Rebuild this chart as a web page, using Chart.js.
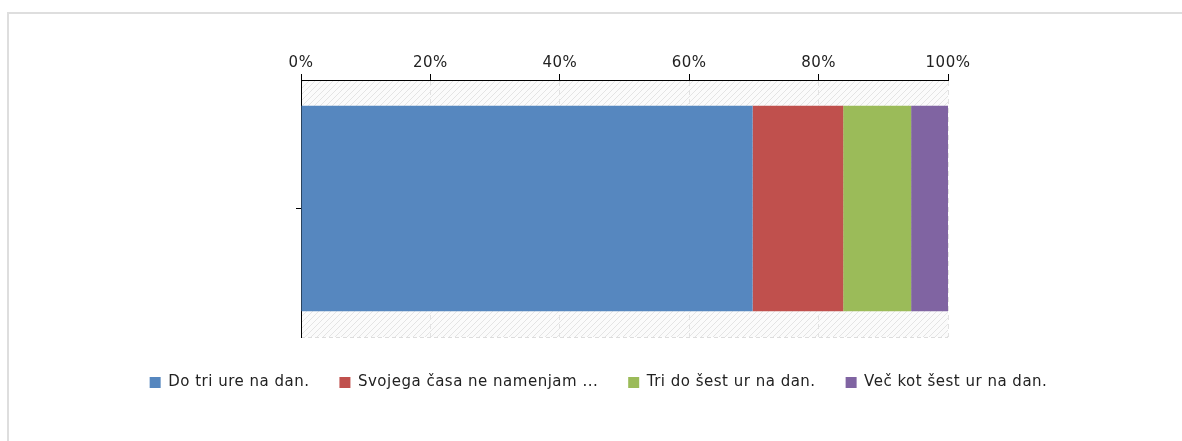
<!DOCTYPE html>
<html>
<head>
<meta charset="utf-8">
<script src="https://cdn.jsdelivr.net/npm/chart.js@4.4.1/dist/chart.umd.min.js"></script>
<style>
  html, body { margin: 0; padding: 0; background: #fff; }
  #frame { position: absolute; left: 7px; top: 12px; width: 1200px; height: 460px; border: 2px solid #dedede; box-sizing: border-box; }
  #wrap { position: absolute; left: 0; top: 0; width: 1182px; height: 441px; }
</style>
</head>
<body>
<div id="frame"></div>
<div id="wrap"><canvas id="myChart" width="1182" height="441"></canvas></div>
<script>
// one row, four answers (share of respondents, %)
const categories = [""];
const seriesLabels = [
  "Do tri ure na dan.",
  "Svojega časa ne namenjam ...",
  "Tri do šest ur na dan.",
  "Več kot šest ur na dan.",
];
const seriesValues = [69.8, 14.0, 10.5, 5.7];
const seriesColors = ["#5687bf", "#c0504d", "#9bbb59", "#8064a2"];
const tickStep = 20;

function hatch() {
  const c = document.createElement("canvas");
  c.width = 6;
  c.height = 6;
  const g = c.getContext("2d");
  g.fillStyle = "#fbfbfb";
  g.fillRect(0, 0, 6, 6);
  g.strokeStyle = "#e4e4e4";
  g.lineWidth = 1;
  g.beginPath();
  g.moveTo(0, 6);
  g.lineTo(6, 0);
  g.moveTo(-3, 3);
  g.lineTo(3, -3);
  g.moveTo(3, 9);
  g.lineTo(9, 3);
  g.stroke();
  return g.createPattern(c, "repeat");
}

// the original text is a little wider than DejaVu
const spacing = {
  id: "spacing",
  beforeUpdate(chart) { chart.ctx.letterSpacing = "0.5px"; },
  beforeLayout(chart) { chart.ctx.letterSpacing = "0.5px"; },
  beforeDraw(chart) { chart.ctx.letterSpacing = "0.5px"; },
};

const plotBg = {
  id: "plotBg",
  beforeDraw(chart) {
    const { ctx, chartArea: a } = chart;
    ctx.save();
    ctx.fillStyle = hatch();
    ctx.fillRect(a.left, a.top, a.right - a.left, a.bottom - a.top);
    ctx.strokeStyle = "#dddddd";
    ctx.setLineDash([4, 3]);
    ctx.beginPath();
    ctx.moveTo(a.left, a.bottom + 0.5);
    ctx.lineTo(a.right, a.bottom + 0.5);
    ctx.stroke();
    ctx.restore();
  },
};

function main() {
  const ctx = document.getElementById("myChart").getContext("2d");
  const font = { family: "'DejaVu Sans', Verdana, sans-serif", size: 15 };

  const chartOptions = {
    type: "bar",
    data: {
      labels: categories,
      datasets: seriesLabels.map((label, i) => ({
        label: label,
        data: [seriesValues[i]],
        backgroundColor: seriesColors[i],
        borderWidth: 0,
        categoryPercentage: 1,
        barPercentage: 0.8,
      })),
    },
    plugins: [spacing, plotBg],
    options: {
      indexAxis: "y",
      responsive: false,
      animation: false,
      layout: { padding: { top: 40, left: 15, right: 0, bottom: 41 } },
      scales: {
        x: {
          stacked: true,
          position: "top",
          min: 0,
          max: 100,
          afterFit: (s) => { s.height = 40; },
          ticks: { stepSize: tickStep, padding: 2, color: "#222", font: font, callback: (v) => v + "%" },
          grid: { color: "#e2e2e2", tickColor: "#000", tickLength: 6, tickBorderDash: [] },
          border: { color: "#000", width: 1, dash: [5, 4] },
        },
        y: {
          stacked: true,
          afterFit: (s) => { s.width = 286; },
          ticks: { display: false },
          grid: { offset: false, drawOnChartArea: false, tickColor: "#000", tickLength: 5 },
          border: { color: "#000", width: 1 },
        },
        yR: {
          type: "linear",
          position: "right",
          afterFit: (s) => { s.width = 234; },
          ticks: { display: false },
          grid: { display: false },
          border: { display: false },
        },
        xB: {
          type: "linear",
          position: "bottom",
          afterFit: (s) => { s.height = 8; },
          ticks: { display: false },
          grid: { display: false },
          border: { display: false },
        },
      },
      plugins: {
        legend: {
          position: "bottom",
          labels: { boxWidth: 11, boxHeight: 11, padding: 30, color: "#222", font: font },
        },
        tooltip: { enabled: false },
      },
    },
  };

  new Chart(ctx, chartOptions);
}
main();
</script>
</body>
</html>
